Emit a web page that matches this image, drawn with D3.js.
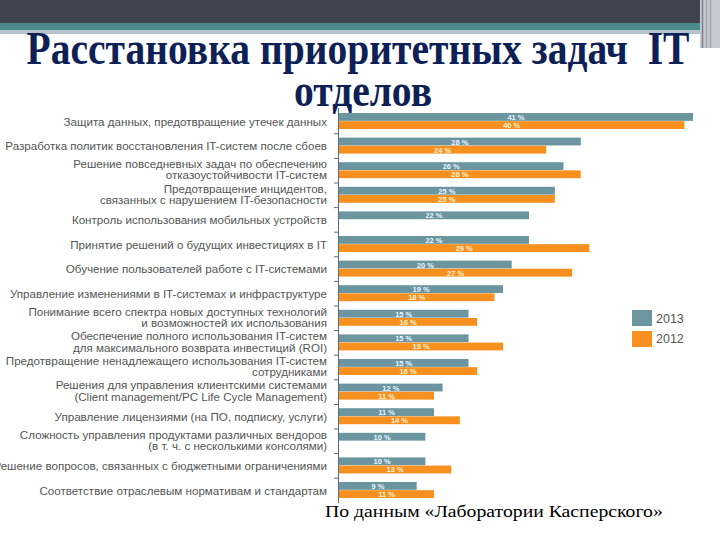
<!DOCTYPE html>
<html><head><meta charset="utf-8">
<script src="https://cdn.jsdelivr.net/npm/d3@7"></script>
<style>body{margin:0;background:#fff} svg{display:block}</style>
</head><body>
<svg id="c" width="720" height="540"></svg>
<script>
const titleLines = ["Расстановка приоритетных задач\u00a0\u00a0IT", "отделов"];
const sourceText = "По данным «Лаборатории Касперского»";
const categories = [
  "Защита данных, предотвращение утечек данных",
  "Разработка политик восстановления IT-систем после сбоев",
  "Решение повседневных задач по обеспечению\nотказоустойчивости IT-систем",
  "Предотвращение инцидентов,\nсвязанных с нарушением IT-безопасности",
  "Контроль использования мобильных устройств",
  "Принятие решений о будущих инвестициях в IT",
  "Обучение пользователей работе с IT-системами",
  "Управление изменениями в IT-системах и инфраструктуре",
  "Понимание всего спектра новых доступных технологий\nи возможностей их использования",
  "Обеспечение полного использования IT-систем\nдля максимального возврата инвестиций (ROI)",
  "Предотвращение ненадлежащего использования IT-систем\nсотрудниками",
  "Решения для управления клиентскими системами\n(Client management/PC Life Cycle Management)",
  "Управление лицензиями (на ПО, подписку, услуги)",
  "Сложность управления продуктами различных вендоров\n(в т. ч. с несколькими консолями)",
  "Решение вопросов, связанных с бюджетными ограничениями",
  "Соответствие отраслевым нормативам и стандартам"
];
const seriesNames = ["2013", "2012"];
const values2013 = [41, 28, 26, 25, 22, 22, 20, 19, 15, 15, 15, 12, 11, 10, 10, 9];
const values2012 = [40, 24, 28, 25, null, 29, 27, 18, 16, 19, 16, 11, 14, null, 13, 11];

const colors = {"2013": "#6b959f", "2012": "#f7901e"};
const valueTextColors = {"2013": "#eaf4ff", "2012": "#fff4d6"};

const svg = d3.select("#c");

// header decoration
svg.append("rect").attr("x", 0).attr("y", 0).attr("width", 700).attr("height", 23).attr("fill", "#41434f");
svg.append("rect").attr("x", 0).attr("y", 23).attr("width", 700).attr("height", 7).attr("fill", "#4b8a8a");
svg.append("rect").attr("x", 0).attr("y", 30).attr("width", 700).attr("height", 4).attr("fill", "#b4c2cc");
svg.append("rect").attr("x", 700).attr("y", 0).attr("width", 20).attr("height", 48).attr("fill", "#c9c9d3");
[702, 706, 710].forEach((lx, i) => svg.append("line").attr("x1", lx + .5).attr("x2", lx + .5).attr("y1", 0).attr("y2", 48)
  .attr("stroke", i === 0 ? "#7f7f8c" : "#a3a3b0").attr("stroke-width", 1.5));

// title
const tg = svg.append("g");
const t1 = tg.append("text").attr("font-family", "'Liberation Serif','Times New Roman',serif").attr("font-weight", "bold")
  .attr("font-size", 47).attr("fill", "#0d2157").attr("text-anchor", "middle").text(titleLines[0]);
const t2 = tg.append("text").attr("font-family", "'Liberation Serif','Times New Roman',serif").attr("font-weight", "bold")
  .attr("font-size", 47).attr("fill", "#0d2157").attr("text-anchor", "middle").text(titleLines[1]);
const w1 = t1.node().getComputedTextLength();
const sx = 663 / w1;
t1.attr("transform", `translate(358,64) scale(${sx},1)`);
t2.attr("transform", `translate(363,106) scale(${sx},1)`);

// scales
const y = d3.scaleBand().domain(categories).range([108.7, 502.3]).paddingInner(0);
const yInner = d3.scaleBand().domain(seriesNames).range([-8, 8]).paddingInner(0.04);
const x = d3.scaleLinear().domain([0, 41]).range([339, 693]);

// axis
const ax = svg.append("g");
ax.append("line").attr("x1", 338.5).attr("x2", 338.5).attr("y1", 108).attr("y2", 503).attr("stroke", "#5a6a78").attr("stroke-width", 1);
ax.selectAll("line.tk").data(categories.slice(1)).join("line").attr("class", "tk")
  .attr("x1", 334).attr("x2", 338.5).attr("y1", d => y(d) + .5).attr("y2", d => y(d) + .5)
  .attr("stroke", "#5a6a78").attr("stroke-width", 1);

// bars
const rows = categories.map((c, i) => ({cat: c, vals: [{s: "2013", v: values2013[i]}, {s: "2012", v: values2012[i]}].filter(d => d.v != null)}));
const g = svg.append("g");
const rg = g.selectAll("g.row").data(rows).join("g").attr("class", "row")
  .attr("transform", d => `translate(0,${y(d.cat) + y.bandwidth() / 2})`);
rg.selectAll("rect").data(d => d.vals).join("rect")
  .attr("x", x(0)).attr("y", d => yInner(d.s)).attr("width", d => x(d.v) - x(0)).attr("height", yInner.bandwidth())
  .attr("fill", d => colors[d.s]);
rg.selectAll("text.val").data(d => d.vals).join("text").attr("class", "val")
  .attr("x", d => (x(0) + x(d.v)) / 2).attr("y", d => yInner(d.s) + yInner.bandwidth() / 2 + 0.5)
  .attr("text-anchor", "middle").attr("dominant-baseline", "central")
  .attr("font-family", "'Liberation Sans',Arial,sans-serif").attr("font-weight", "bold").attr("font-size", 7.5)
  .attr("fill", d => valueTextColors[d.s]).text(d => d.v + " %");

// category labels
const lg = svg.append("g").attr("font-family", "'Liberation Sans',Arial,sans-serif").attr("fill", "#555")
  .attr("text-anchor", "end");
const probe = lg.append("text").attr("font-size", 10).text(categories[1]);
const fs = 10 * 322 / probe.node().getComputedTextLength();
probe.remove();
lg.attr("font-size", fs);
lg.selectAll("text").data(categories).join("text")
  .attr("transform", d => `translate(327,${y(d) + y.bandwidth() / 2})`)
  .each(function (d) {
    const lines = d.split("\n");
    const n = lines.length;
    d3.select(this).selectAll("tspan").data(lines).join("tspan")
      .attr("x", 0).attr("y", (l, i) => (i - (n - 1) / 2) * 11.5 - (n > 1 ? 1 : 0))
      .attr("dominant-baseline", "central").text(l => l);
  });

// legend
const leg = svg.append("g");
seriesNames.forEach((s, i) => {
  leg.append("rect").attr("x", 632).attr("y", 310 + i * 21).attr("width", 20).attr("height", 16).attr("fill", colors[s]);
  leg.append("text").attr("x", 656).attr("y", 322.5 + i * 20.5).attr("font-family", "'Liberation Sans',Arial,sans-serif")
    .attr("font-size", 12.5).attr("fill", "#555").text(s);
});

// source
const src = svg.append("text").attr("font-family", "'Liberation Serif','Times New Roman',serif").attr("font-size", 17)
  .attr("fill", "#000").text(sourceText);
const ws = src.node().getComputedTextLength();
src.attr("transform", `translate(325,517) scale(${338 / ws},1)`);
</script>
</body></html>
